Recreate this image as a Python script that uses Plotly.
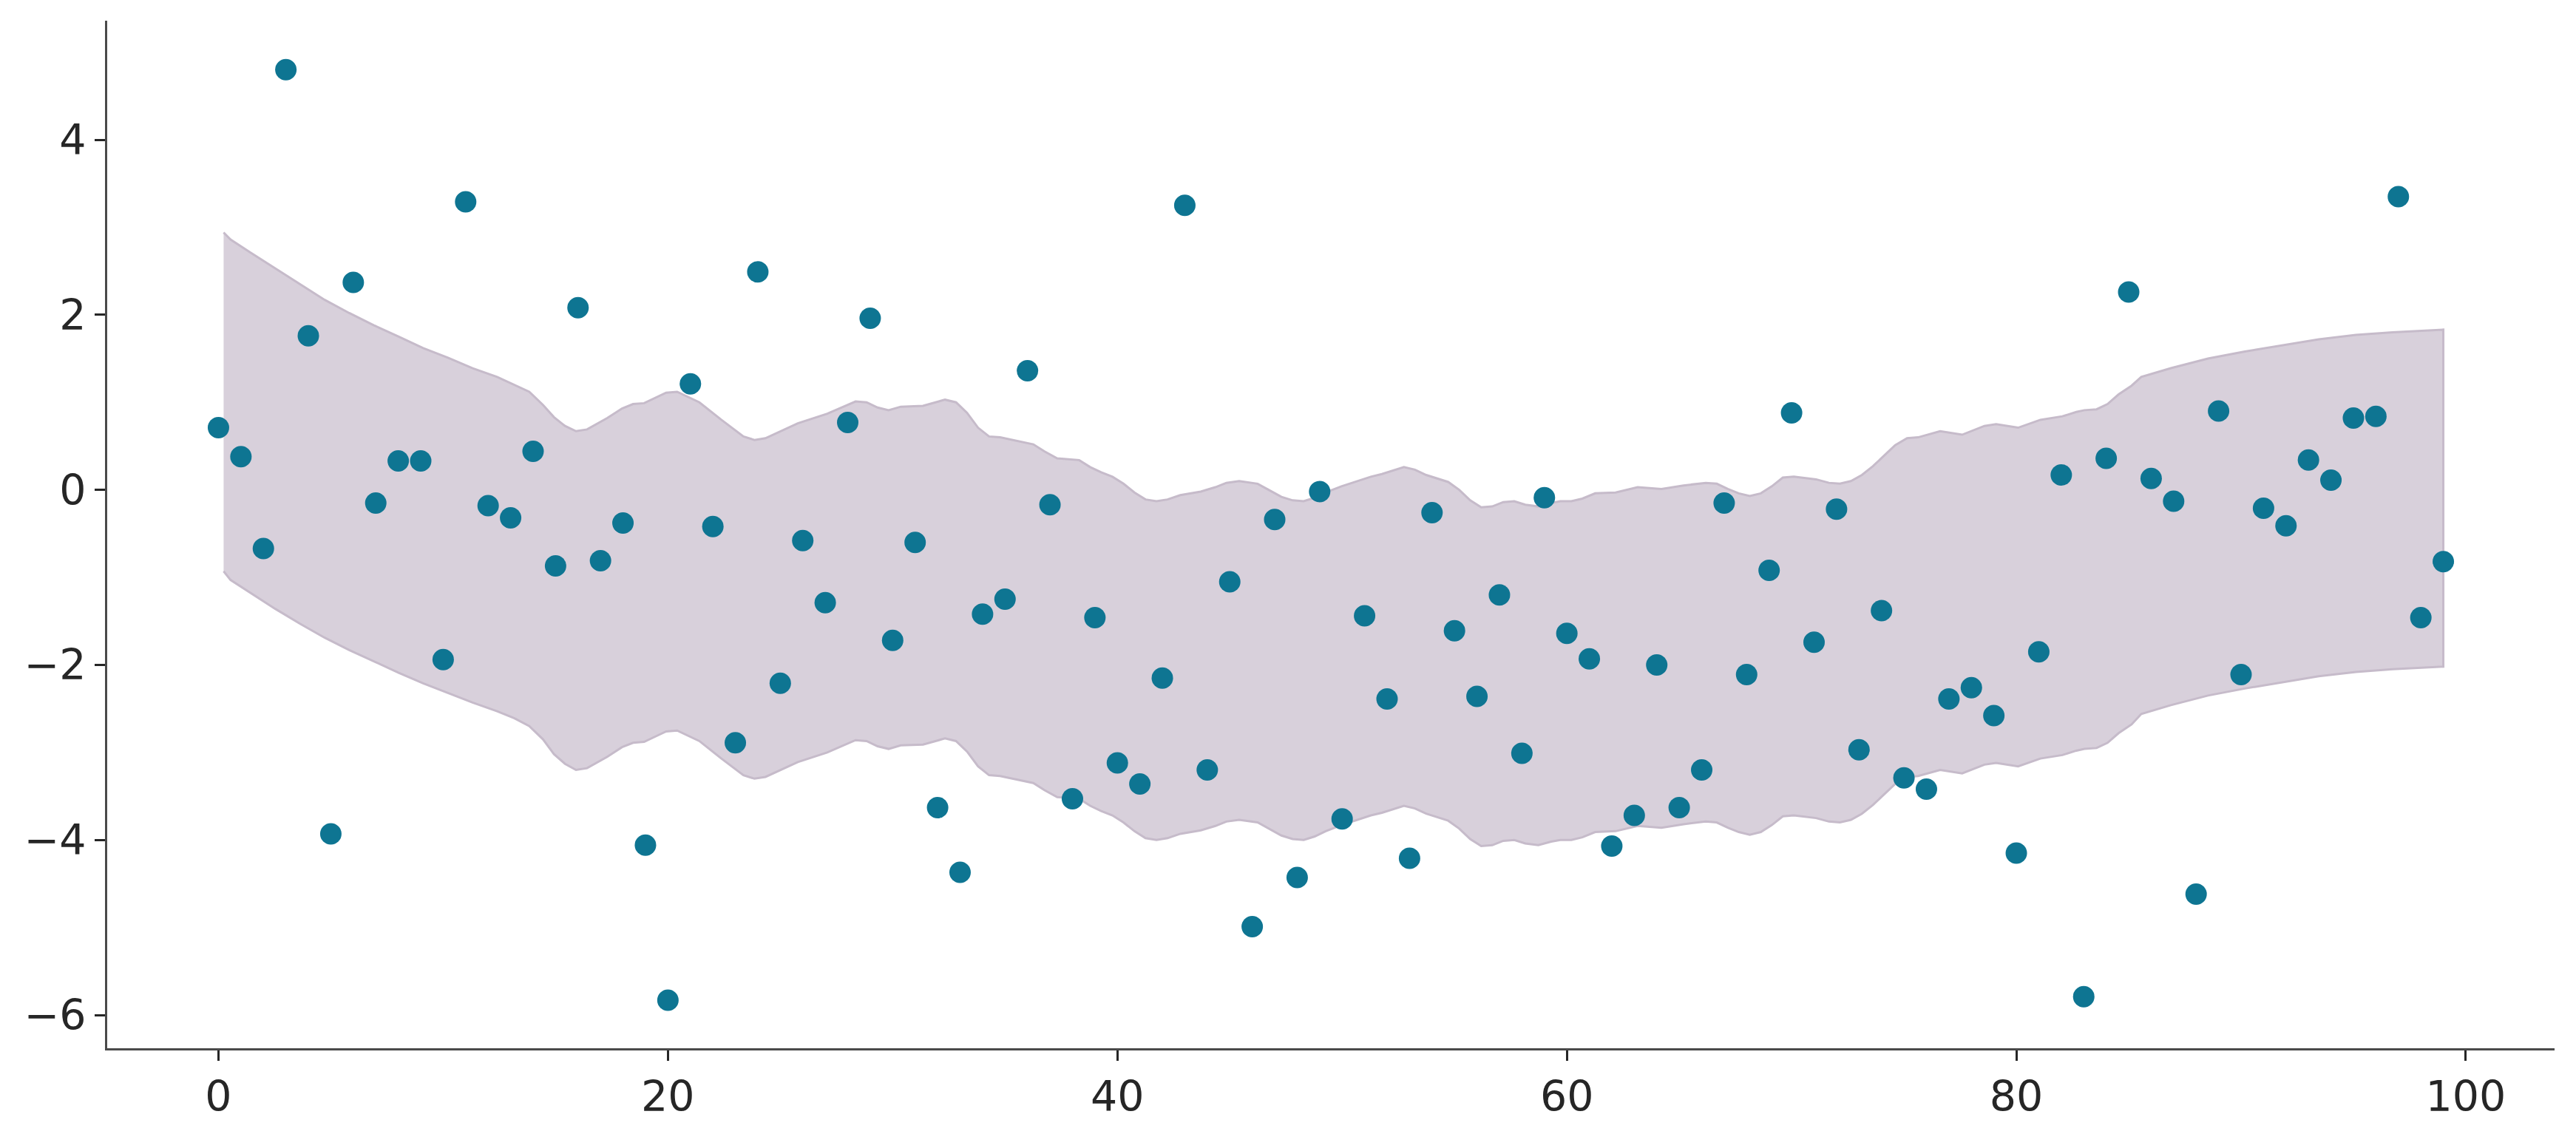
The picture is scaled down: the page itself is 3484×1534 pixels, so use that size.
import plotly.graph_objects as go

# Observed points
x_obs = list(range(100))
y_obs = [0.71, 0.38, -0.67, 4.80, 1.76, -3.93, 2.37, -0.15, 0.33, 0.33,
         -1.94, 3.29, -0.18, -0.32, 0.44, -0.87, 2.08, -0.81, -0.38, -4.06,
         -5.83, 1.21, -0.42, -2.89, 2.49, -2.21, -0.58, -1.29, 0.77, 1.96,
         -1.72, -0.60, -3.63, -4.37, -1.42, -1.25, 1.36, -0.17, -3.53, -1.46,
         -3.12, -3.36, -2.15, 3.25, -3.20, -1.05, -4.99, -0.34, -4.43, -0.02,
         -3.76, -1.44, -2.39, -4.21, -0.26, -1.61, -2.36, -1.20, -3.01, -0.09,
         -1.64, -1.93, -4.07, -3.72, -2.00, -3.63, -3.20, -0.15, -2.11, -0.92,
         0.88, -1.74, -0.22, -2.97, -1.38, -3.29, -3.42, -2.39, -2.26, -2.58,
         -4.15, -1.85, 0.17, -5.79, 0.36, 2.26, 0.13, -0.13, -4.62, 0.90,
         -2.11, -0.21, -0.41, 0.34, 0.11, 0.82, 0.84, 3.35, -1.46, -0.82]

# HDI band edges
band_x = [0.23, 0.54, 1.43, 2.53, 3.63, 4.73, 5.82, 6.92, 8.02, 9.11,
          10.21, 11.31, 12.40, 13.17, 13.83, 14.44, 14.93, 15.42,
          15.91, 16.40, 17.30, 17.96, 18.45, 18.94, 19.43, 19.92, 20.41, 21.40,
          22.38, 23.36, 23.85, 24.34, 25.78, 27.09, 28.35, 28.84, 29.33, 29.82,
          30.36, 31.35, 32.33, 32.82, 33.31, 33.80, 34.29, 34.78, 36.26, 36.75,
          37.32, 38.30, 38.79, 39.28, 39.78, 40.27, 40.76, 41.25, 41.74, 42.23,
          42.80, 43.71, 44.36, 44.85, 45.42, 46.24, 46.73, 47.30, 47.80, 48.29,
          48.78, 49.27, 49.97, 51.28, 51.77, 52.75, 53.24, 53.74, 54.72, 55.21,
          55.70, 56.19, 56.68, 57.17, 57.66, 58.15, 58.73, 59.30, 59.71, 60.20,
          60.69, 61.26, 62.17, 62.66, 63.15, 64.21, 65.19, 66.18, 66.67, 67.16,
          67.65, 68.14, 68.63, 69.12, 69.61, 70.10, 71.09, 71.66, 72.15, 72.64,
          73.13, 73.62, 74.12, 74.61, 75.14, 75.63, 76.61, 77.59, 78.58, 79.10,
          80.08, 81.07, 82.05, 82.67, 83.03, 83.57, 84.06, 84.55, 85.13, 85.56,
          86.88, 88.53, 90.17, 91.82, 93.46, 95.11, 96.75, 99.0]
band_upper = [2.94, 2.86, 2.71, 2.53, 2.35, 2.17, 2.02, 1.88, 1.75, 1.62,
              1.51, 1.39, 1.29, 1.20, 1.12, 0.97, 0.83, 0.73,
              0.67, 0.69, 0.82, 0.93, 0.98, 0.99, 1.05, 1.11, 1.12, 1.00,
              0.80, 0.61, 0.57, 0.59, 0.76, 0.87, 1.01, 1.00, 0.94, 0.91,
              0.95, 0.96, 1.03, 1.00, 0.88, 0.71, 0.61, 0.60, 0.52, 0.44,
              0.36, 0.34, 0.26, 0.20, 0.15, 0.07, -0.03, -0.11, -0.13, -0.11,
              -0.06, -0.02, 0.03, 0.08, 0.10, 0.07, 0.00, -0.08, -0.12, -0.13,
              -0.09, -0.03, 0.04, 0.15, 0.18, 0.26, 0.23, 0.17, 0.09, 0.00,
              -0.12, -0.20, -0.19, -0.14, -0.13, -0.17, -0.19, -0.15, -0.13, -0.13,
              -0.10, -0.04, -0.03, 0.00, 0.03, 0.01, 0.05, 0.08, 0.07, 0.01,
              -0.04, -0.07, -0.04, 0.04, 0.14, 0.15, 0.12, 0.08, 0.07, 0.10,
              0.17, 0.27, 0.39, 0.51, 0.59, 0.60, 0.67, 0.63, 0.73, 0.75,
              0.71, 0.80, 0.84, 0.89, 0.91, 0.92, 0.98, 1.09, 1.19, 1.29,
              1.39, 1.50, 1.58, 1.65, 1.72, 1.77, 1.80, 1.83]
band_lower = [-0.93, -1.03, -1.18, -1.36, -1.53, -1.69, -1.83, -1.96, -2.09, -2.21,
              -2.32, -2.43, -2.53, -2.61, -2.70, -2.85, -3.02, -3.13,
              -3.20, -3.18, -3.05, -2.94, -2.89, -2.88, -2.82, -2.76, -2.75, -2.87,
              -3.07, -3.26, -3.30, -3.28, -3.11, -3.00, -2.86, -2.87, -2.93, -2.96,
              -2.92, -2.91, -2.84, -2.87, -2.99, -3.16, -3.26, -3.27, -3.35, -3.43,
              -3.51, -3.53, -3.61, -3.67, -3.72, -3.80, -3.90, -3.98, -4.00, -3.98,
              -3.93, -3.89, -3.84, -3.79, -3.77, -3.80, -3.87, -3.95, -3.99, -4.00,
              -3.96, -3.90, -3.83, -3.72, -3.69, -3.61, -3.64, -3.70, -3.78, -3.87,
              -3.99, -4.07, -4.06, -4.01, -4.00, -4.04, -4.06, -4.02, -4.00, -4.00,
              -3.97, -3.91, -3.90, -3.87, -3.84, -3.86, -3.82, -3.79, -3.80, -3.86,
              -3.91, -3.94, -3.91, -3.83, -3.73, -3.72, -3.75, -3.79, -3.80, -3.77,
              -3.70, -3.60, -3.48, -3.36, -3.28, -3.27, -3.20, -3.24, -3.14, -3.12,
              -3.16, -3.07, -3.03, -2.98, -2.96, -2.95, -2.89, -2.78, -2.68, -2.56,
              -2.46, -2.35, -2.27, -2.20, -2.13, -2.08, -2.05, -2.02]

x_ticks = [0, 20, 40, 60, 80, 100]
y_ticks = [-6, -4, -2, 0, 2, 4]

fig = go.Figure()

fig.add_trace(go.Scatter(
    x=band_x + band_x[::-1],
    y=band_upper + band_lower[::-1],
    fill="toself",
    fillcolor="rgba(216,208,219,1)",
    line=dict(color="rgba(198,187,202,1)", width=3),
    mode="lines",
    hoverinfo="skip",
    showlegend=False,
))

fig.add_trace(go.Scatter(
    x=x_obs,
    y=y_obs,
    mode="markers",
    marker=dict(size=29, color="#0e7592", line=dict(width=0)),
    showlegend=False,
))

axis_common = dict(
    showgrid=False,
    zeroline=False,
    showline=True,
    linewidth=3,
    linecolor="#4a4a4a",
    ticks="outside",
    ticklen=14,
    tickwidth=3,
    tickcolor="#262626",
    tickfont=dict(family="DejaVu Sans", size=57, color="#262626"),
    mirror=False,
)

fig.update_xaxes(range=[-4.95, 103.95], tickmode="array", tickvals=x_ticks,
                 **axis_common)
fig.update_yaxes(range=[-6.38, 5.36], tickmode="array", tickvals=y_ticks,
                 **axis_common)

# page body has an 8px default margin; compensate so the plot area lands
# where the reference has it
fig.update_layout(
    width=3476,
    height=1526,
    margin=dict(l=137, r=29, t=20, b=116),
    plot_bgcolor="white",
    paper_bgcolor="white",
)

fig.write_html("out.html")
